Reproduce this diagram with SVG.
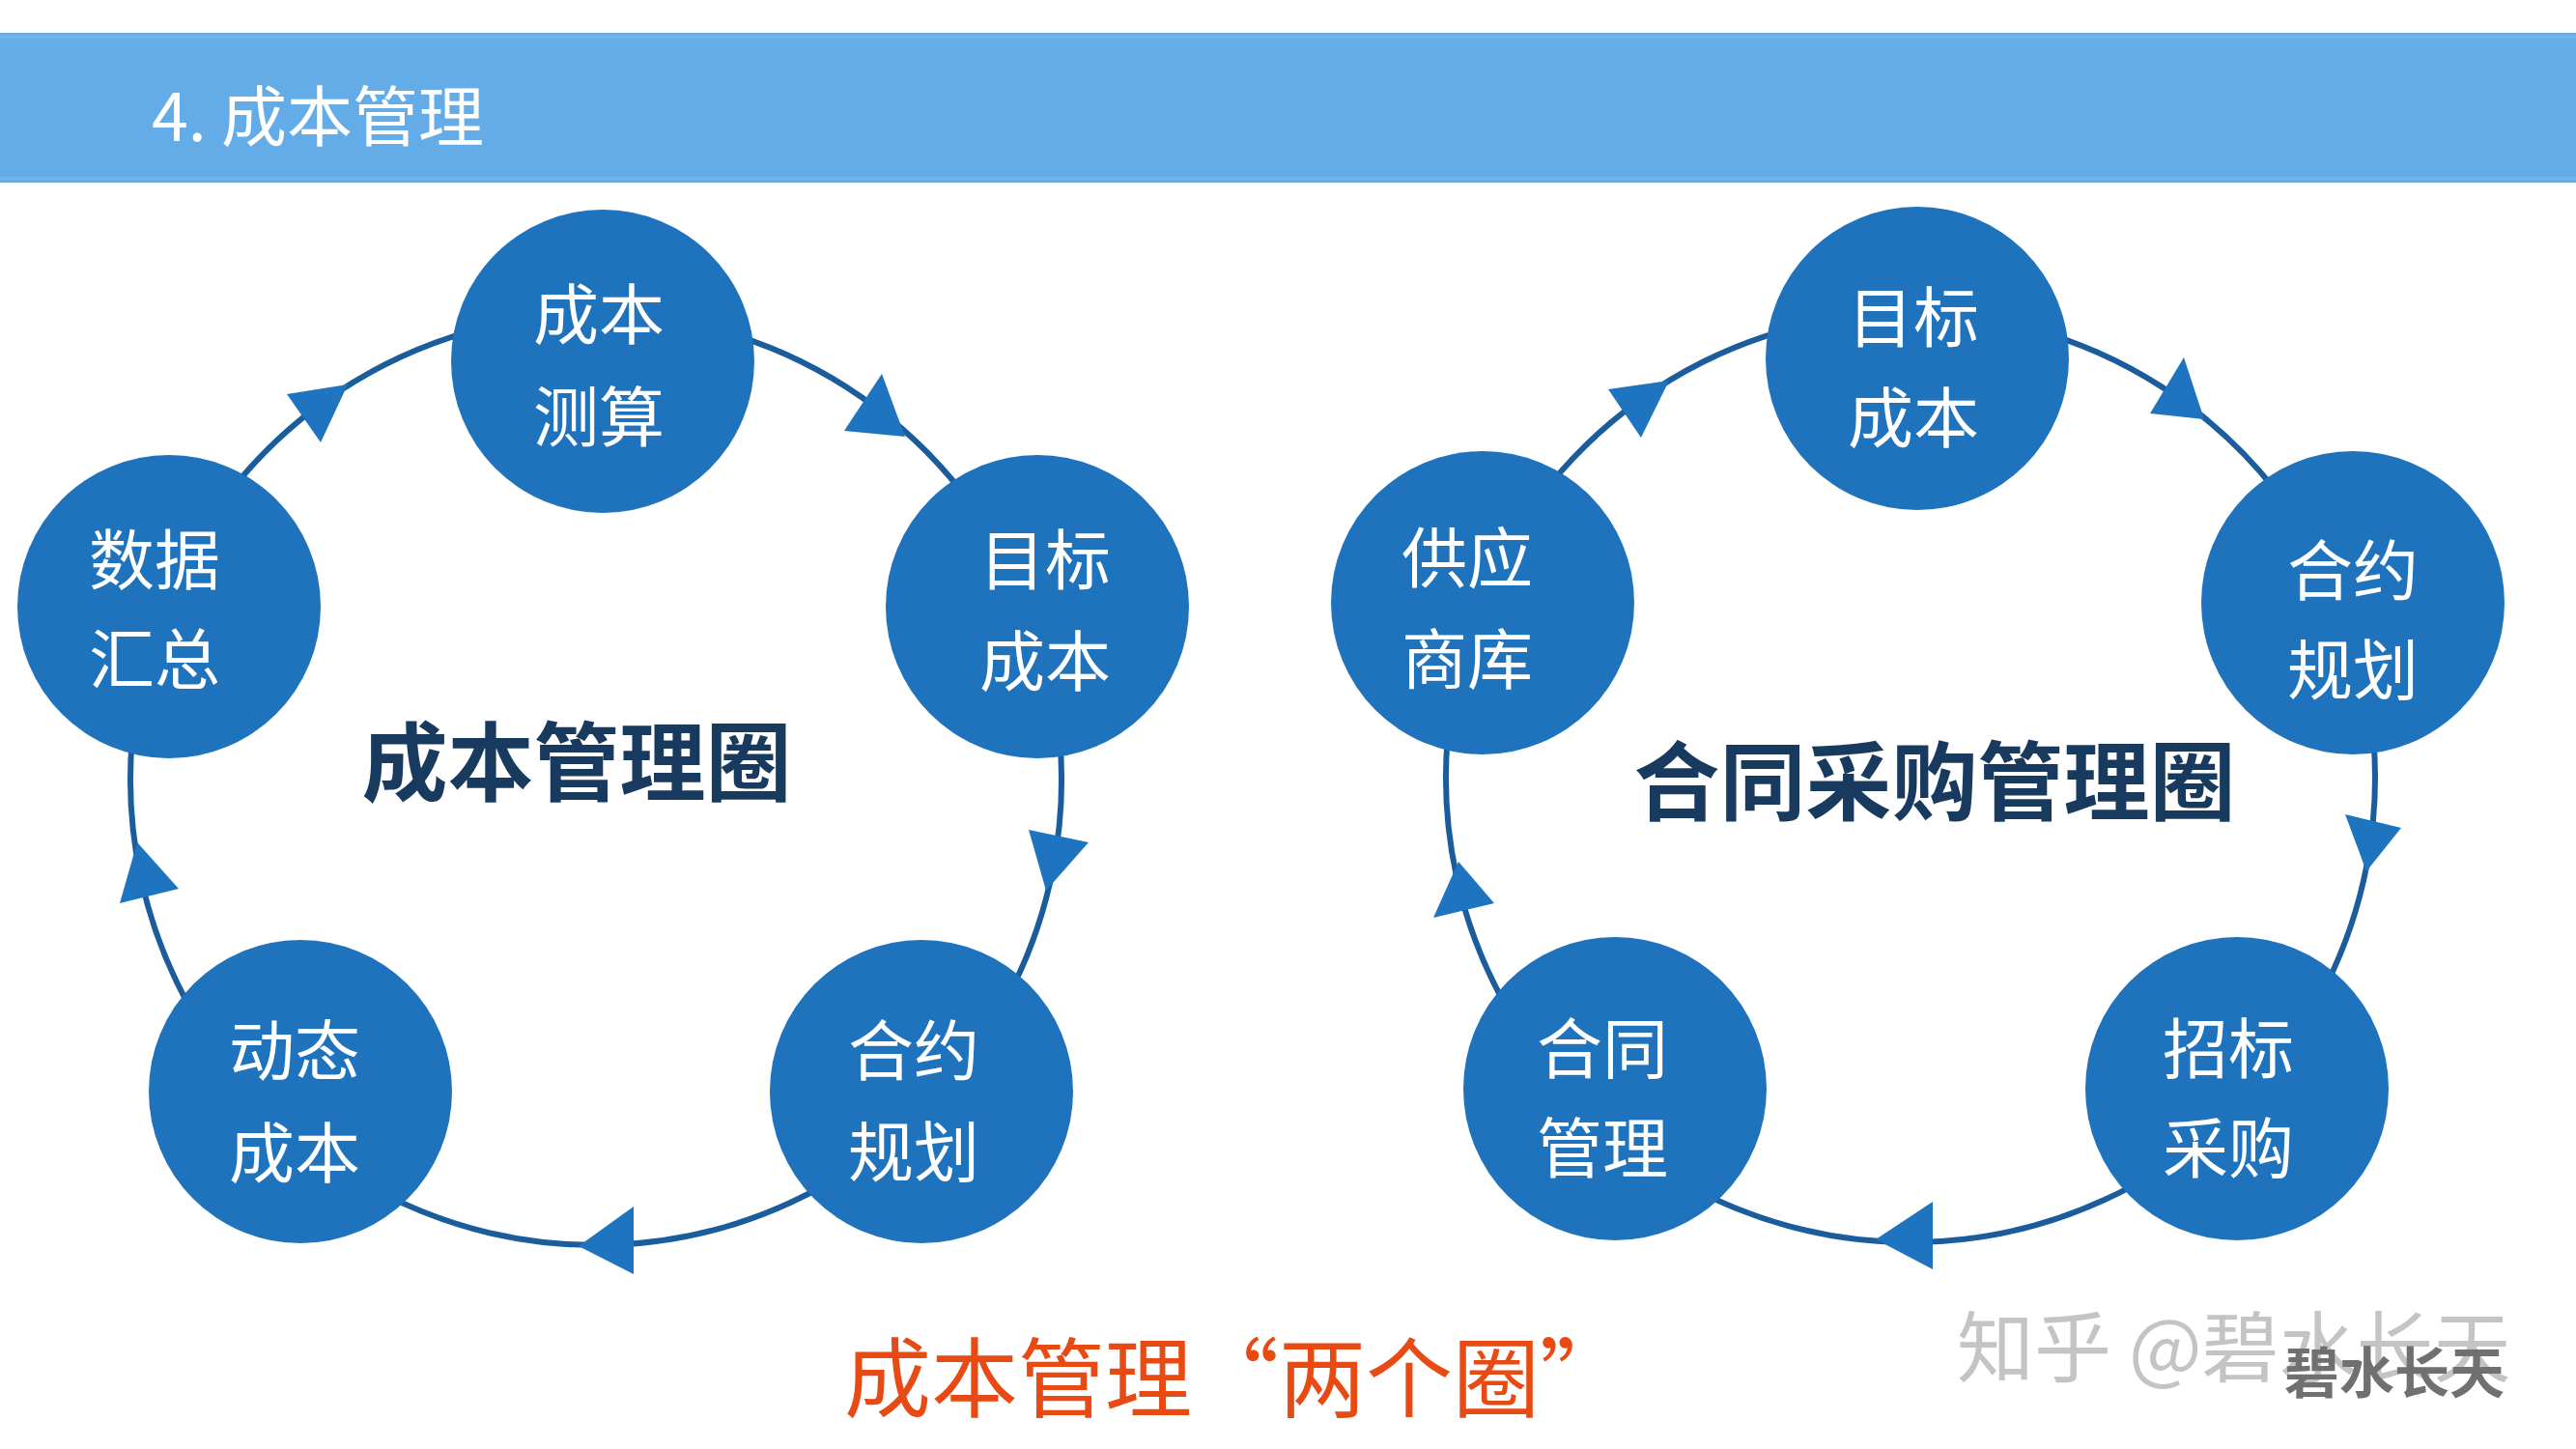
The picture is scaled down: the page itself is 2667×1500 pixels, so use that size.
<svg xmlns="http://www.w3.org/2000/svg" width="2667" height="1500" viewBox="0 0 2667 1500">
<style>
  .bg { fill: #ffffff; }
  .bar { fill: #63ACE8; }
  .node { fill: #1F73BD; }
  .lbl { fill: #ffffff; font-family: "Noto Sans CJK SC", "Noto Sans", sans-serif; font-size: 68px; text-anchor: middle; }
  .ring { fill: none; stroke: #1A5C9C; stroke-width: 6; }
  .head { fill: #1E74BF; }
  .ctitle { fill: #173A5E; font-family: "Noto Sans CJK SC", "Noto Sans", sans-serif; font-weight: 700; font-size: 89px; text-anchor: middle; }
</style>
<rect class="bg" x="0" y="0" width="2667" height="1500"/>
<g id="header">
  <rect class="bar" x="0" y="34" width="2667" height="155"/>
  <rect x="0" y="36" width="2667" height="4" fill="#6FB3EA"/>
  <rect x="0" y="183" width="2667" height="4" fill="#6FB3EA"/>
  <text x="157" y="146" fill="#ffffff" font-family="Noto Sans CJK SC, Noto Sans, sans-serif" font-size="68">4. 成本管理</text>
</g>
<g id="connectors">
  <g id="ring-cost">
    <path class="ring" d="M170.1,626.4 A482,482 0 0 1 624.6,325.1"/>
    <path class="ring" d="M624.6,325.1 A482,482 0 0 1 1065.8,631.1"/>
    <path class="ring" d="M1065.8,631.1 A482,482 0 0 1 964.9,1140.6"/>
    <path class="ring" d="M964.9,1140.6 A482,482 0 0 1 285.2,1156.6"/>
    <path class="ring" d="M285.2,1156.6 A482,482 0 0 1 170.1,626.4"/>
    <polygon class="head" points="360,398 297,408 332,458"/>
    <polygon class="head" points="937,452 913,387 874,446"/>
    <polygon class="head" points="1083,922 1065,859 1127,872"/>
    <polygon class="head" points="599,1290 656,1249 656,1319"/>
    <polygon class="head" points="142,872 185,920 124,935"/>
  </g>
  <g id="ring-contract">
    <path class="ring" d="M1532.6,623.3 A481,481 0 0 1 1985.6,324.1"/>
    <path class="ring" d="M1985.6,324.1 A481,481 0 0 1 2425.2,627.9"/>
    <path class="ring" d="M2425.2,627.9 A481,481 0 0 1 2326.3,1136.7"/>
    <path class="ring" d="M2326.3,1136.7 A481,481 0 0 1 1646.9,1153.9"/>
    <path class="ring" d="M1646.9,1153.9 A481,481 0 0 1 1532.6,623.3"/>
    <polygon class="head" points="1728,394 1665,403 1699,453"/>
    <polygon class="head" points="2282,434 2261,370 2226,428"/>
    <polygon class="head" points="2450,902 2428,843 2486,857"/>
    <polygon class="head" points="1942,1283 2001,1244 2001,1314"/>
    <polygon class="head" points="1510,892 1547,935 1484,950"/>
  </g>
</g>
<g id="node-cost-estimate">
  <circle class="node" cx="624" cy="374" r="157"/>
  <text class="lbl" x="620" y="351">成本</text>
  <text class="lbl" x="620" y="457">测算</text>
</g>
<g id="node-target-cost-l">
  <circle class="node" cx="1074" cy="628" r="157"/>
  <text class="lbl" x="1082" y="605">目标</text>
  <text class="lbl" x="1082" y="710">成本</text>
</g>
<g id="node-contract-plan-l">
  <circle class="node" cx="954" cy="1130" r="157"/>
  <text class="lbl" x="946" y="1113">合约</text>
  <text class="lbl" x="946" y="1218">规划</text>
</g>
<g id="node-dynamic-cost">
  <circle class="node" cx="311" cy="1130" r="157"/>
  <text class="lbl" x="305" y="1113">动态</text>
  <text class="lbl" x="305" y="1219">成本</text>
</g>
<g id="node-data-summary">
  <circle class="node" cx="175" cy="628" r="157"/>
  <text class="lbl" x="160" y="605">数据</text>
  <text class="lbl" x="160" y="708">汇总</text>
</g>
<g id="node-target-cost-r">
  <circle class="node" cx="1985" cy="371" r="157"/>
  <text class="lbl" x="1981" y="354">目标</text>
  <text class="lbl" x="1981" y="458">成本</text>
</g>
<g id="node-contract-plan-r">
  <circle class="node" cx="2436" cy="624" r="157"/>
  <text class="lbl" x="2436" y="616">合约</text>
  <text class="lbl" x="2436" y="719">规划</text>
</g>
<g id="node-tender">
  <circle class="node" cx="2316" cy="1127" r="157"/>
  <text class="lbl" x="2307" y="1111">招标</text>
  <text class="lbl" x="2307" y="1214">采购</text>
</g>
<g id="node-contract-mgmt">
  <circle class="node" cx="1672" cy="1127" r="157"/>
  <text class="lbl" x="1659" y="1111">合同</text>
  <text class="lbl" x="1659" y="1214">管理</text>
</g>
<g id="node-supplier">
  <circle class="node" cx="1535" cy="624" r="157"/>
  <text class="lbl" x="1519" y="603">供应</text>
  <text class="lbl" x="1519" y="708">商库</text>
</g>
<g id="titles">
  <text class="ctitle" x="597" y="822">成本管理圈</text>
  <text class="ctitle" x="2003" y="842">合同采购管理圈</text>
  <text x="874" y="1460" fill="#E84A14" font-family="Noto Sans CJK SC, Noto Sans, sans-serif" font-size="90">成本管理“两个圈”</text>
</g>
<g id="watermark">
  <text x="2026" y="1424" fill="#C4C4C4" font-family="Noto Sans CJK SC, Noto Sans, sans-serif" font-size="80">知乎 @碧水长天</text>
  <text x="2365" y="1442" fill="#707070" font-family="Noto Sans CJK SC, Noto Sans, sans-serif" font-weight="700" font-size="57">碧水长天</text>
</g>
</svg>
